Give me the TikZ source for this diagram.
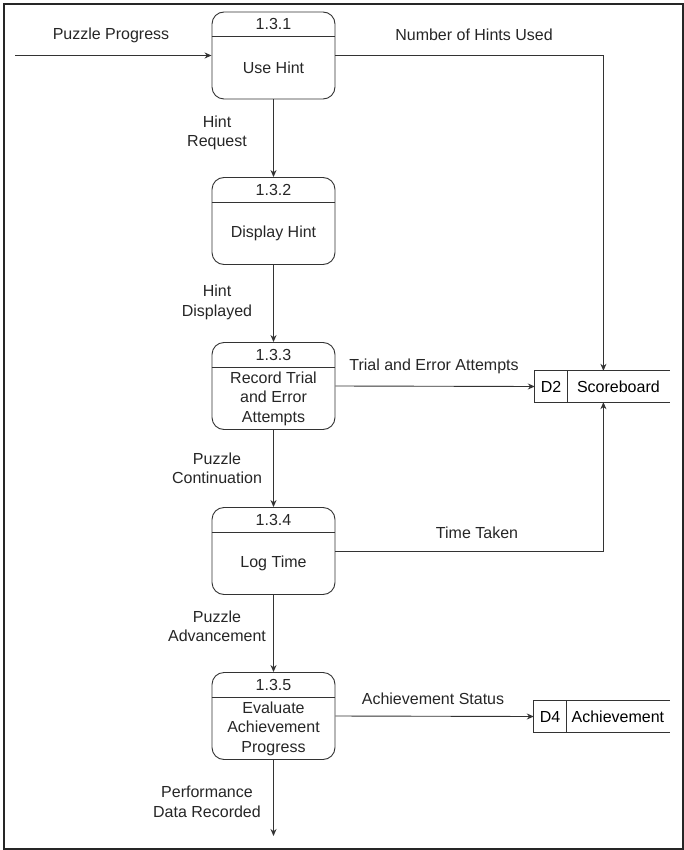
\documentclass[tikz,border=0pt]{standalone}
\usepackage{fontspec}
\setmainfont{Liberation Sans}
\usetikzlibrary{positioning,arrows.meta}
\definecolor{ln}{HTML}{333333}
\tikzset{
  proc/.style={draw=ln, line width=0.9pt, rounded corners=12pt, minimum width=123pt, minimum height=87pt, inner sep=0pt},
  store/.style={minimum height=31pt, inner sep=0pt},
  flow/.style={draw=ln, line width=0.9pt, -{Stealth[length=7pt,width=6pt]}},
  lbl/.style={align=center, text=black!85, inner sep=1pt}}

\begin{document}
\begin{tikzpicture}[x=1pt, y=-1pt, font=\fontsize{16}{19.5}\selectfont, node distance=0pt]
\useasboundingbox (0,0) rectangle (684,850);
\draw[line width=2pt, black!85] (3.5,4) rectangle (683,848.5);
\foreach \i/\y/\txt in {1/55.5/{Use Hint}, 2/221/{Display Hint}, 3/386/{Record Trial\\and Error\\Attempts}, 4/551/{Log Time}, 5/716/{Evaluate\\Achievement\\Progress}} {
  \node[proc] (p\i) at (273.5,\y) {};
  \draw[ln, line width=0.9pt] ([yshift=-25pt]p\i.north west) -- ([yshift=-25pt]p\i.north east);
  \node[lbl] (id\i) at ([yshift=-12.5pt]p\i.north) {1.3.\i};
  \node[lbl] (t\i) at ([yshift=-12.5pt]p\i.center) {\txt};
}
\node[store, minimum width=32pt] (d2id) at (551,386.5) {D2};
\node[store, minimum width=102pt, right=of d2id] (d2) {Scoreboard};
\draw[ln, line width=0.9pt] (d2.north east) -- (d2id.north west) -- (d2id.south west) -- (d2.south east) (d2id.north east) -- (d2id.south east);
\node[store, minimum width=32pt] (d4id) at (550,716.5) {D4};
\node[store, minimum width=103pt, right=of d4id] (d4) {Achievement};
\draw[ln, line width=0.9pt] (d4.north east) -- (d4id.north west) -- (d4id.south west) -- (d4.south east) (d4id.north east) -- (d4id.south east);
\coordinate (src) at (15,55.5);
\coordinate (sink) at (273.5,836);
\draw[flow] (src) -- (p1.west);
\draw[flow] (p1.east) -| ([xshift=-15pt]d2.north);
\draw[flow] (p1.south) -- (p2.north);
\draw[flow] (p2.south) -- (p3.north);
\draw[flow] (p3.east) -- (d2id.west);
\draw[flow] (p3.south) -- (p4.north);
\draw[flow] (p4.east) -| ([xshift=-15pt]d2.south);
\draw[flow] (p4.south) -- (p5.north);
\draw[flow] (p5.east) -- (d4id.west);
\draw[flow] (p5.south) -- (sink);
\node[lbl] (lpp) at (111,35) {Puzzle Progress};
\node[lbl] (lnh) at (474,35) {Number of Hints Used};
\node[lbl] (lhr) at (217,133) {Hint\\Request};
\node[lbl] (lhd) at (217,302.5) {Hint\\Displayed};
\node[lbl] (lte) at (434,366) {Trial and Error Attempts};
\node[lbl] (lpc) at (217,468.5) {Puzzle\\Continuation};
\node[lbl] (ltt) at (477,533) {Time Taken};
\node[lbl] (lpa) at (217,626.5) {Puzzle\\Advancement};
\node[lbl] (las) at (433,699) {Achievement Status};
\node[lbl] (lpd) at (207,802) {Performance\\Data Recorded};
\end{tikzpicture}
\end{document}
